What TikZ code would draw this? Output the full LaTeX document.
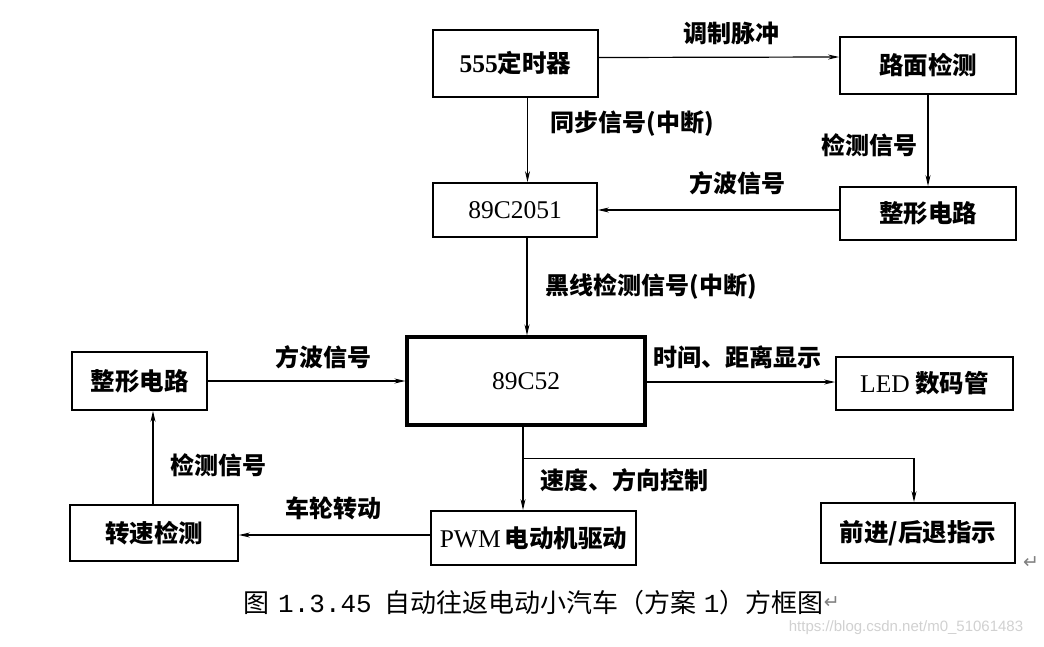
\documentclass[tikz,border=0pt]{standalone}
\usepackage{fontspec}
\setmainfont{Noto Sans CJK SC}
\newfontfamily\tm{Liberation Serif}
\newfontfamily\dv{DejaVu Sans}
\newfontfamily\wm{Liberation Sans}
\newfontfamily\capmono{Liberation Mono}
\usetikzlibrary{arrows.meta}
\begin{document}
\begin{tikzpicture}[x=1pt,y=-1pt,
  box/.style={draw,line width=1.8pt,minimum width=#1,inner sep=0pt,font=\fontsize{24.5}{24.5}\selectfont\bfseries},
  arr/.style={line width=1.2pt,-{Stealth[length=11pt,width=5pt]}},
  lab/.style={font=\fontsize{24}{24}\selectfont\bfseries,inner sep=0pt}]
\useasboundingbox (0,0) rectangle (1044,646);
\fill[white] (0,0) rectangle (1044,646);
% boxes
\node[box=165pt,minimum height=67pt] (t555) at (515.5,63.5) {{\tm\fontsize{25.5}{25.5}\selectfont 555}定时器};
\node[box=176pt,minimum height=57pt] (road) at (928,65.5) {路面检测};
\node[box=164pt,minimum height=54pt] (c2051) at (515,210) {\tm\mdseries\fontsize{25.5}{25.5}\selectfont 89C2051};
\node[box=238pt,minimum height=88pt,line width=3.2pt] (c52) at (526,381) {\tm\mdseries\fontsize{25.5}{25.5}\selectfont 89C52};
\node[box=176pt,minimum height=53pt] (shR) at (928,213.5) {整形电路};
\node[box=135pt,minimum height=58pt] (shL) at (139.5,381) {整形电路};
\node[box=177pt,minimum height=53pt] (led) at (924.5,383.5) {{\tm\mdseries\fontsize{25.5}{25.5}\selectfont LED} 数码管};
\node[box=205pt,minimum height=54pt] (pwm) at (533.5,538) {{\tm\mdseries\fontsize{25.5}{25.5}\selectfont PWM}\,电动机驱动};
\node[box=194pt,minimum height=60pt] (fwd) at (918,533) {前进/后退指示};
\node[box=168pt,minimum height=56pt] (spd) at (154,533) {转速检测};
% connectors
\draw[arr] ([yshift=6pt]t555.east) -- ([yshift=8.5pt]road.west);
\draw[arr] ([xshift=12pt]t555.south) -- ([xshift=12pt]t555.south |- c2051.north);
\draw[arr] (road.south) -- (road.south |- shR.north);
\draw[arr] ([yshift=3.5pt]shR.west) -- ([yshift=3.5pt]shR.west -| c2051.east);
\draw[arr] ([xshift=12pt]c2051.south) -- ([xshift=12pt]c2051.south |- c52.north);
\draw[arr] (shL.east) -- (shL.east -| c52.west);
\draw[arr] ([yshift=-1pt]c52.east) -- ([yshift=-1pt]c52.east -| led.west);
\draw[arr] ([xshift=-3pt]c52.south) -- ([xshift=-3pt]c52.south |- pwm.north);
\coordinate (j) at ([xshift=-3pt,yshift=-32pt]c52.south);
\draw[arr] (j) -| ([xshift=-4pt]fwd.north);
\draw[arr] ([yshift=3pt]pwm.west) -- ([yshift=3pt]pwm.west -| spd.east);
\draw[arr] ([xshift=-1pt]spd.north) -- ([xshift=-1pt]spd.north |- shL.south);
% labels
\node[lab] (l1) at (731,33) {调制脉冲};
\node[lab] (l2) at (632,124) {同步信号(中断)};
\node[lab] (l3) at (869,145) {检测信号};
\node[lab] (l4) at (737,183) {方波信号};
\node[lab] (l5) at (651,287) {黑线检测信号(中断)};
\node[lab] (l6) at (323,357) {方波信号};
\node[lab] (l7) at (737,357) {时间、距离显示};
\node[lab] (l8) at (624,480) {速度、方向控制};
\node[lab] (l9) at (333,508) {车轮转动};
\node[lab] (l10) at (218,465) {检测信号};
% caption
\node[inner sep=0pt,anchor=west,font=\fontsize{26}{26}\selectfont] (cap) at (243,603) {图\hspace{9pt}{\capmono 1.3.45}\hspace{13pt}自动往返电动小汽车（方案\hspace{7pt}{\capmono 1}）方框图};
\node[inner sep=0pt,anchor=west,text=gray,font=\dv\fontsize{19}{19}\selectfont] (pm1) at (cap.east) {↵};
\node[inner sep=0pt,text=gray,font=\dv\fontsize{19}{19}\selectfont] (pm2) at (1031,563) {↵};
\node[inner sep=0pt,text=black!18,font=\wm\fontsize{15}{15}\selectfont] (wmk) at (906,628) {https://blog.csdn.net/m0\_51061483};
\end{tikzpicture}
\end{document}
